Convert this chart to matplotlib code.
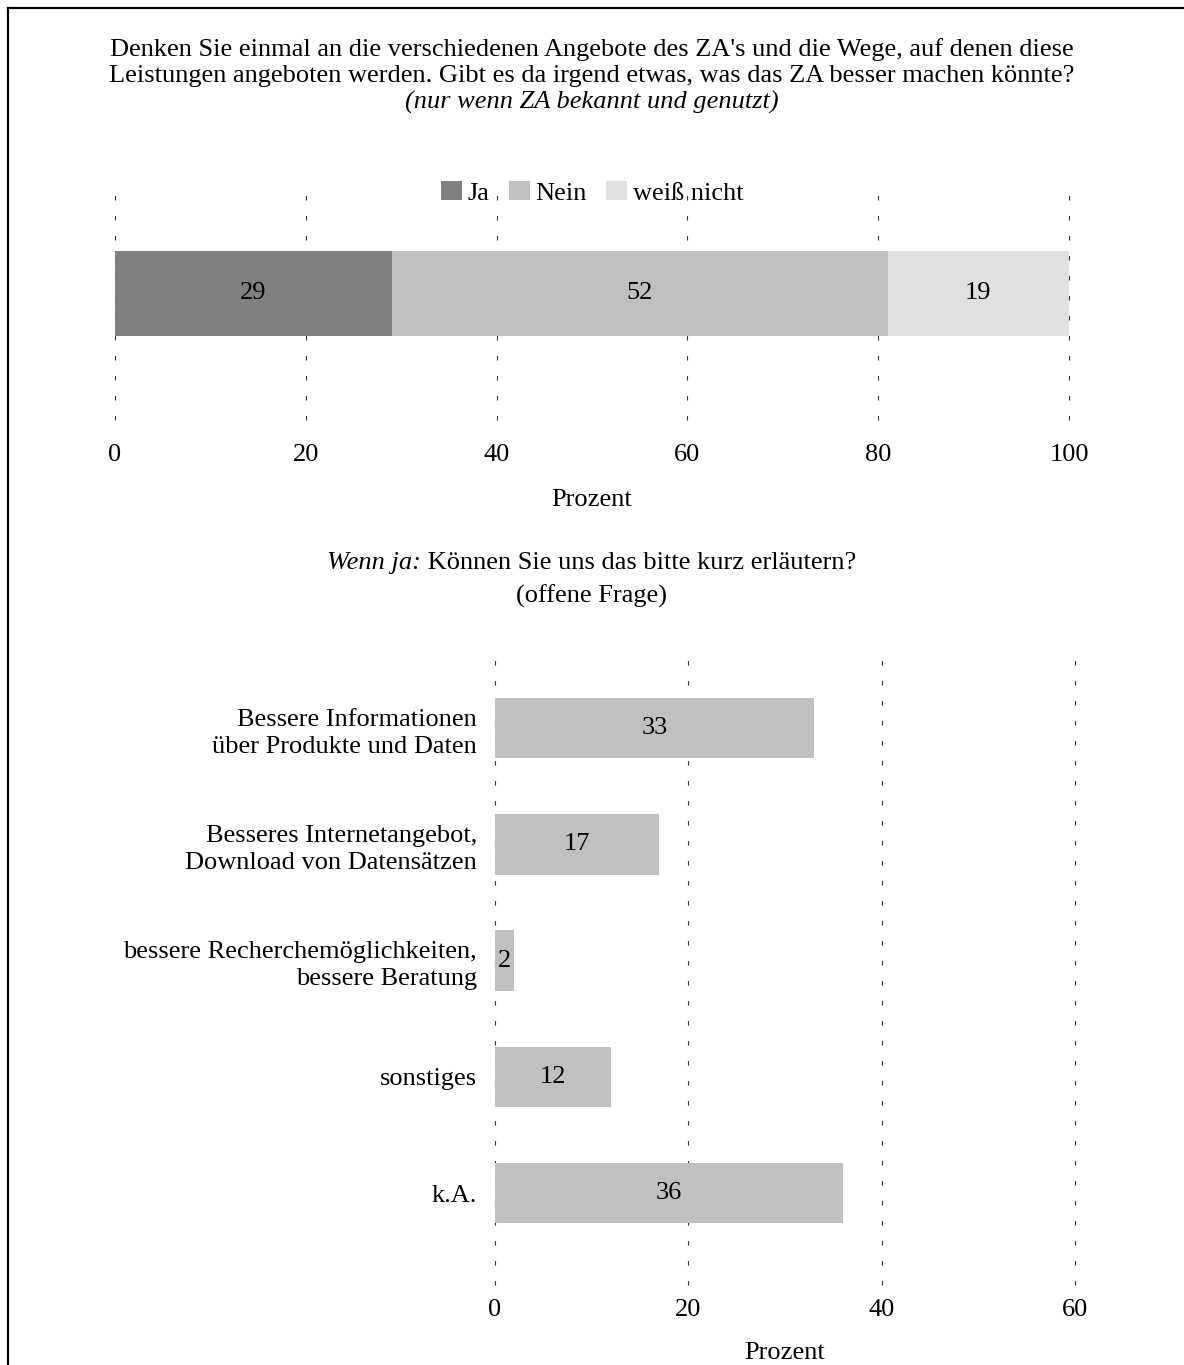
import matplotlib
matplotlib.use("Agg")
from matplotlib import pyplot as plt
from matplotlib.lines import Line2D

plt.rcParams['font.family'] = ['Liberation Serif', 'DejaVu Serif']
FS = 19
plt.rcParams['font.size'] = FS

# Daten
antworten = ['Ja', 'Nein', 'weiß nicht']
anteile = [29, 52, 19]
farben = ['#808080', '#c0c0c0', '#e0e0e0']

gruende = ['Bessere Informationen\nüber Produkte und Daten',
           'Besseres Internetangebot,\nDownload von Datensätzen',
           'bessere Recherchemöglichkeiten,\nbessere Beratung',
           'sonstiges',
           'k.A.']
gruende_werte = [33, 17, 2, 12, 36]

W, H = 1184, 1365
fig = plt.figure(figsize=(W / 100, H / 100), dpi=100)

def box(l, t, r, b):
    return [l / W, 1 - b / H, (r - l) / W, (b - t) / H]

grid_style = dict(color='#333333', lw=0.8, linestyle=(0, (4, 14)), zorder=0, clip_on=False)

# ---- oberes Diagramm ----
ax1 = fig.add_axes(box(115, 180, 1069, 420))
links = 0
for name, wert, farbe in zip(antworten, anteile, farben):
    ax1.barh(0, wert, left=links, height=0.6, color=farbe, label=name, zorder=2)
    ax1.text(links + wert / 2, 0, str(wert), ha='center', va='center', fontsize=FS, zorder=3)
    links += wert
ax1.set_xlim(0, 100)
ax1.set_ylim(-0.893, 0.801)
ax1.set_xticks(range(0, 101, 20))
for x in range(0, 101, 20):
    ax1.axvline(x, **grid_style)
ax1.set_yticks([])
ax1.tick_params(axis='x', length=0, pad=17, labelsize=FS)
for s in ax1.spines.values():
    s.set_visible(False)
ax1.legend(loc='center', bbox_to_anchor=(592 / W, 1 - 193 / H), bbox_transform=fig.transFigure,
           ncol=3, frameon=False, fontsize=FS, handlelength=0.8, handleheight=0.7,
           handletextpad=0.2, columnspacing=0.75, borderpad=0)

# ---- unteres Diagramm ----
ax2 = fig.add_axes(box(495, 645, 1075, 1285))
pos = list(range(len(gruende)))
ax2.barh(pos, gruende_werte, height=0.52, color='#c0c0c0', zorder=2)
for p, v in zip(pos, gruende_werte):
    ax2.text(v / 2, p, str(v), ha='center', va='center', fontsize=FS, zorder=3)
ax2.set_xlim(0, 60)
ax2.set_ylim(4.79, -0.716)
ax2.set_xticks(range(0, 61, 20))
for x in range(0, 61, 20):
    ax2.axvline(x, **grid_style)
ax2.set_yticks(pos)
ax2.set_yticklabels(gruende, multialignment='right', linespacing=1.3)
ax2.tick_params(axis='x', length=0, pad=10, labelsize=FS)
ax2.tick_params(axis='y', length=0, pad=13, labelsize=FS)
for s in ax2.spines.values():
    s.set_visible(False)

# ---- Texte ----
fig.text(592 / W, 1 - 50 / H,
         "Denken Sie einmal an die verschiedenen Angebote des ZA's und die Wege, auf denen diese",
         ha='center', va='center', fontsize=FS)
fig.text(592 / W, 1 - 76 / H,
         "Leistungen angeboten werden. Gibt es da irgend etwas, was das ZA besser machen könnte?",
         ha='center', va='center', fontsize=FS)
fig.text(592 / W, 1 - 102 / H, "(nur wenn ZA bekannt und genutzt)",
         ha='center', va='center', fontsize=FS, style='italic')
fig.text(592 / W, 1 - 500 / H, "Prozent", ha='center', va='center', fontsize=FS)
fig.text(785 / W, 1 - 1353 / H, "Prozent", ha='center', va='center', fontsize=FS)

t1 = fig.text(0, 1 - 563 / H, "Wenn ja:", ha='left', va='center', fontsize=FS, style='italic')
t2 = fig.text(0, 1 - 563 / H, " Können Sie uns das bitte kurz erläutern?", ha='left', va='center', fontsize=FS)
r = fig.canvas.get_renderer()
w1 = t1.get_window_extent(r).width
w2 = t2.get_window_extent(r).width
start = 592 - (w1 + w2) / 2
t1.set_x(start / W)
t2.set_x((start + w1) / W)
fig.text(592 / W, 1 - 596 / H, "(offene Frage)", ha='center', va='center', fontsize=FS)

# Rahmen oben und links
fig.add_artist(Line2D([8 / W, 1], [1 - 8 / H, 1 - 8 / H], color='black', lw=1.6))
fig.add_artist(Line2D([8 / W, 8 / W], [0, 1 - 8 / H], color='black', lw=1.6))

fig.savefig('out.png', dpi=100)
